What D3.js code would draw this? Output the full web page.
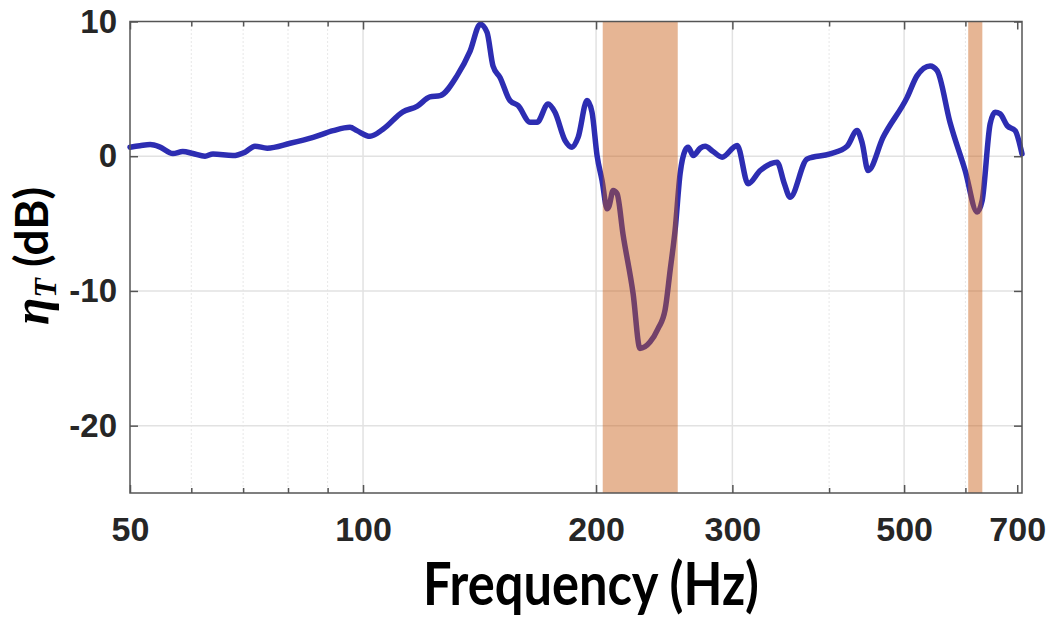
<!DOCTYPE html>
<html><head><meta charset="utf-8">
<script src="https://cdn.jsdelivr.net/npm/d3@7"></script>
<style>body{margin:0;background:#fff}</style>
</head><body><svg id="c" width="1051" height="619"></svg>
<script>
// ---- data ----
const freqHz = [50.0,51.5,53.1,54.6,56.8,58.5,60.3,62.5,64.0,67.9,70.4,72.5,75.2,80.5,86.2,91.5,96.2,98.2,102.1,106.1,112.6,117.4,122.0,125.8,132.3,137.5,141.7,144.6,147.2,150.3,154.8,158.6,164.4,167.8,173.4,177.0,182.4,186.2,189.6,194.7,197.6,200.6,203.6,206.7,207.9,210.4,212.9,216.7,223.3,227.9,234.8,240.5,245.6,249.3,253.0,256.8,260.6,263.0,267.1,272.7,276.7,283.3,291.0,304.3,314.4,325.9,342.7,350.0,356.2,374.7,401.2,422.0,434.7,441.3,449.2,469.7,504.5,519.7,540.2,551.6,573.2,599.5,621.3,630.6,645.8,655.5,665.3,679.3,695.7,710.0];
const etaDb = [0.67,0.78,0.87,0.7,0.2,0.35,0.2,0.0,0.17,0.05,0.3,0.74,0.6,0.96,1.4,1.9,2.15,1.9,1.48,2.0,3.3,3.7,4.4,4.5,5.98,7.8,9.8,9.2,6.7,5.85,4.13,3.76,2.52,2.52,3.88,3.26,1.16,0.67,1.4,4.13,3.26,0.05,-1.8,-3.9,-3.7,-2.54,-2.78,-5.8,-10.2,-14.27,-13.8,-12.8,-11.4,-8.47,-5.5,-1.3,0.42,0.67,0.05,0.6,0.74,0.35,-0.07,0.8,-2.05,-1.06,-0.44,-2.0,-3.04,-0.2,0.17,0.74,1.9,1.0,-1.06,1.4,4.37,5.98,6.7,6.35,2.5,-1.06,-4.15,-3.3,2.4,3.26,3.14,2.27,1.9,0.17];
const bandStartHz = [204, 605];
const bandEndHz = [255, 631];
const xTickValues = [50, 100, 200, 300, 500, 700];
const xMinorTickValues = [60, 70, 80, 90, 400, 600];
const yTickValues = [-20, -10, 0, 10];
const yGridValues = [-20, -10, 0];
const xDomain = [50, 710];
const yDomain = [-25, 10];

// ---- layout ----
const L = 130, R = 1022, T = 21.5, B = 493;
const svg = d3.select("#c");
const x = d3.scaleLog().domain(xDomain).range([L, R]);
const y = d3.scaleLinear().domain(yDomain).range([B, T]);

// grid
const grid = svg.append("g");
grid.selectAll(".gx").data(xTickValues.filter(v => v > 50 && v < 700)).enter().append("line")
  .attr("x1", d => x(d)).attr("x2", d => x(d)).attr("y1", T).attr("y2", B)
  .attr("stroke", "#e2e2e2").attr("stroke-width", 1.5);
grid.selectAll(".gm").data(xMinorTickValues).enter().append("line")
  .attr("x1", d => x(d)).attr("x2", d => x(d)).attr("y1", T).attr("y2", B)
  .attr("stroke", "#cfcfcf").attr("stroke-width", 1).attr("stroke-dasharray", "1,3");
grid.selectAll(".gy").data(yGridValues).enter().append("line")
  .attr("x1", L).attr("x2", R).attr("y1", d => y(d)).attr("y2", d => y(d))
  .attr("stroke", "#e2e2e2").attr("stroke-width", 1.5);

// curve
const pts = freqHz.map((f, i) => [f, etaDb[i]]);
svg.append("path").datum(pts)
  .attr("d", d3.line().x(d => x(d[0])).y(d => y(d[1])).curve(d3.curveMonotoneX))
  .attr("fill", "none").attr("stroke", "rgb(45,45,178)").attr("stroke-width", 5.5)
  .attr("stroke-linejoin", "round").attr("stroke-linecap", "round");

// bands
svg.selectAll(".band").data(bandStartHz.map((s, i) => [s, bandEndHz[i]])).enter().append("rect")
  .attr("x", d => x(d[0])).attr("width", d => x(d[1]) - x(d[0]))
  .attr("y", T).attr("height", B - T)
  .attr("fill", "rgb(200,92,18)").attr("fill-opacity", 0.45);

// axes
const axCol = "#555";
function styleAxis(g) {
  g.select(".domain").remove();
  g.selectAll(".tick line").attr("stroke", axCol).attr("stroke-width", 1.5);
}
const fmt = d => String(d);
svg.append("g").attr("transform", `translate(0,${B})`)
  .call(d3.axisBottom(x).tickValues(xTickValues).tickFormat(fmt).tickSize(-8).tickPadding(24))
  .call(styleAxis)
  .call(g => g.selectAll("text").attr("font-family", "Liberation Sans, Arial, sans-serif")
    .attr("font-weight", "bold").attr("font-size", 34).attr("fill", "#262626").attr("dy", "0.71em"));
svg.append("g").attr("transform", `translate(0,${B})`)
  .call(d3.axisBottom(x).tickValues(xMinorTickValues).tickFormat("").tickSize(-5))
  .call(styleAxis);
svg.append("g").attr("transform", `translate(0,${T})`)
  .call(d3.axisTop(x).tickValues(xTickValues).tickFormat("").tickSize(-8))
  .call(styleAxis);
svg.append("g").attr("transform", `translate(0,${T})`)
  .call(d3.axisTop(x).tickValues(xMinorTickValues).tickFormat("").tickSize(-5))
  .call(styleAxis);
svg.append("g").attr("transform", `translate(${L},0)`)
  .call(d3.axisLeft(y).tickValues(yTickValues).tickFormat(fmt).tickSize(-8).tickPadding(13))
  .call(styleAxis)
  .call(g => g.selectAll("text").attr("font-family", "Liberation Sans, Arial, sans-serif")
    .attr("font-weight", "bold").attr("font-size", 33).attr("fill", "#262626"));
svg.append("g").attr("transform", `translate(${R},0)`)
  .call(d3.axisRight(y).tickValues(yTickValues).tickFormat("").tickSize(-8))
  .call(styleAxis);

// box
svg.append("rect").attr("x", L).attr("y", T).attr("width", R - L).attr("height", B - T)
  .attr("fill", "none").attr("stroke", axCol).attr("stroke-width", 1.5);

// axis titles
svg.append("text").attr("x", 591).attr("y", 605).attr("text-anchor", "middle")
  .attr("font-family", "Lato, 'Open Sans', sans-serif").attr("font-weight", "bold")
  .attr("font-size", 60).attr("fill", "#000")
  .attr("textLength", 336).attr("lengthAdjust", "spacingAndGlyphs")
  .text("Frequency (Hz)");

const yl = svg.append("text").attr("transform", "translate(48,256) rotate(-90)")
  .attr("text-anchor", "middle").attr("fill", "#000");
yl.append("tspan").attr("font-family", "Liberation Serif, serif").attr("font-style", "italic")
  .attr("font-weight", "bold").attr("font-size", 50).text("η");
yl.append("tspan").attr("font-family", "Liberation Serif, serif").attr("font-style", "italic")
  .attr("font-weight", "bold").attr("font-size", 32).attr("dy", 8).text("T");
yl.append("tspan").attr("font-family", "Lato, 'Open Sans', sans-serif").attr("font-weight", "bold")
  .attr("font-size", 46).attr("dy", -8).text(" (dB)");
</script>
</body></html>
